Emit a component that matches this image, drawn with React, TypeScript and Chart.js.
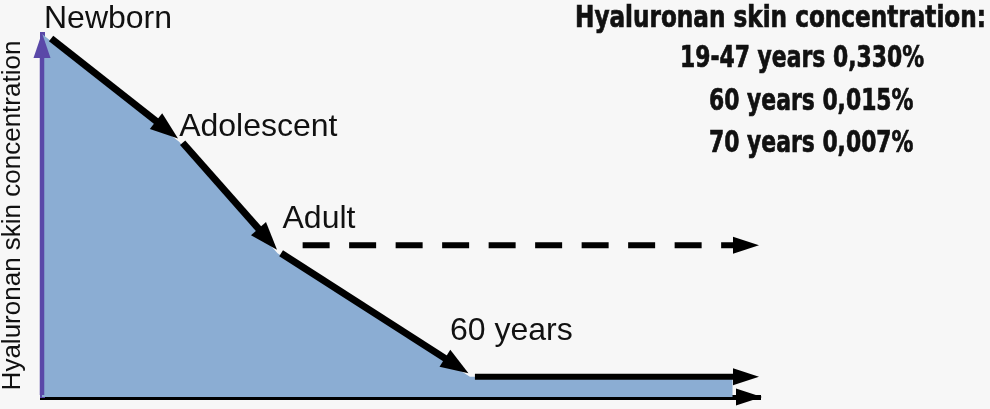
import React, { useEffect, useRef } from "react";
import { Chart, registerables } from "chart.js";

Chart.register(...registerables);

// ---- data ----
const stages = ["Newborn", "Adolescent", "Adult", "60 years"];
const stageAge = [0, 19.1, 32.8, 59.6];
const stageLevel = [100, 70.3, 39.6, 5.6];
const plateauEnd = 96.2;
const arrowEnd = 100;
const adultDashStart = 36.3;
const adultDashLevel = 41.8;
const yAxisTitle = "Hyaluronan skin concentration";
const infoTitle = "Hyaluronan skin concentration:";
const infoLines = ["19-47 years 0,330%", "60 years 0,015%", "70 years 0,007%"];

// ---- style ----
const BG = "#f7f7f7";
const BLUE = "#8badd3";
const PURPLE = "#5a48a8";
const INK = "#111111";
const SANS = "'Liberation Sans', Arial, Helvetica, sans-serif";
const NARROW = "'DejaVu Sans Condensed', 'Liberation Sans Narrow', 'Liberation Sans', Arial, sans-serif";

function drawArrow(
  ctx: CanvasRenderingContext2D,
  x1: number, y1: number, x2: number, y2: number,
  width: number, headLen: number, headHalf: number, color: string,
  dash?: number[]
) {
  const ang = Math.atan2(y2 - y1, x2 - x1);
  const c = Math.cos(ang), s = Math.sin(ang);
  const bx = x2 - c * headLen, by = y2 - s * headLen;
  ctx.save();
  ctx.strokeStyle = color;
  ctx.fillStyle = color;
  ctx.lineWidth = width;
  ctx.lineCap = "butt";
  if (dash) ctx.setLineDash(dash);
  ctx.beginPath();
  ctx.moveTo(x1, y1);
  ctx.lineTo(bx + c * 2, by + s * 2);
  ctx.stroke();
  ctx.setLineDash([]);
  ctx.beginPath();
  ctx.moveTo(x2, y2);
  ctx.lineTo(bx - s * headHalf, by + c * headHalf);
  ctx.lineTo(bx + s * headHalf, by - c * headHalf);
  ctx.closePath();
  ctx.fill();
  ctx.restore();
}

const labelOffsets: [number, number][] = [[2, -6], [0, -6], [5, -25], [-20, -37]];

const annotPlugin = {
  id: "annot",
  afterDraw(chart: any) {
    const ctx: CanvasRenderingContext2D = chart.ctx;
    const xs = chart.scales.x, ys = chart.scales.y;
    const area = chart.chartArea;
    const px = (v: number) => xs.getPixelForValue(v);
    const py = (v: number) => ys.getPixelForValue(v);

    // stage arrows along the curve
    for (let i = 0; i < stages.length - 1; i++) {
      const ax = px(stageAge[i]), ay = py(stageLevel[i]);
      const bx = px(stageAge[i + 1]), by = py(stageLevel[i + 1]);
      const len = Math.hypot(bx - ax, by - ay);
      const ux = (bx - ax) / len, uy = (by - ay) / len;
      const nx = uy, ny = -ux; // upper-right normal
      const off = 2;
      const t0 = i === 0 ? 10 : 3;
      const t1 = 3;
      drawArrow(
        ctx,
        ax + ux * t0 + nx * off, ay + uy * t0 + ny * off,
        bx - ux * t1 + nx * off, by - uy * t1 + ny * off,
        7, 28, 10, "#000"
      );
    }

    // plateau arrow (60 years onward)
    const last = stages.length - 1;
    drawArrow(ctx, px(stageAge[last]) + 5, py(stageLevel[last]), px(arrowEnd) - 1, py(stageLevel[last]), 6, 26, 8.5, "#000");

    // dashed adult arrow
    drawArrow(ctx, px(adultDashStart), py(adultDashLevel), px(arrowEnd) - 1, py(adultDashLevel), 6, 26, 8.5, "#000", [27, 19.5]);

    // x axis arrowhead
    const yb = area.bottom;
    ctx.save();
    ctx.fillStyle = "#000";
    ctx.beginPath();
    ctx.moveTo(area.right + 2, yb);
    ctx.lineTo(area.right - 24, yb - 8.5);
    ctx.lineTo(area.right - 24, yb + 8.5);
    ctx.closePath();
    ctx.fill();
    // y axis line + arrowhead
    const xl = area.left;
    ctx.strokeStyle = PURPLE;
    ctx.lineWidth = 4.5;
    ctx.beginPath();
    ctx.moveTo(xl, yb - 2);
    ctx.lineTo(xl, area.top + 20);
    ctx.stroke();
    ctx.fillStyle = PURPLE;
    ctx.beginPath();
    ctx.moveTo(xl, area.top - 1);
    ctx.lineTo(xl - 8.5, area.top + 24);
    ctx.lineTo(xl + 8.5, area.top + 24);
    ctx.closePath();
    ctx.fill();
    ctx.restore();

    // stage labels
    ctx.save();
    ctx.fillStyle = INK;
    ctx.font = `32px ${SANS}`;
    ctx.textAlign = "left";
    ctx.textBaseline = "alphabetic";
    stages.forEach((s, i) => {
      ctx.fillText(s, px(stageAge[i]) + labelOffsets[i][0], py(stageLevel[i]) + labelOffsets[i][1]);
    });
    ctx.restore();

    // info block
    ctx.save();
    ctx.fillStyle = INK;
    ctx.strokeStyle = INK;
    ctx.lineWidth = 0.7;
    ctx.font = `bold 31px ${NARROW}`;
    ctx.textBaseline = "alphabetic";
    const tw = ctx.measureText(infoTitle).width;
    const sx = 411 / tw;
    ctx.save();
    ctx.translate(986, 27);
    ctx.scale(sx, 1);
    ctx.textAlign = "right";
    ctx.fillText(infoTitle, 0, 0);
    ctx.strokeText(infoTitle, 0, 0);
    ctx.restore();
    const lx = [680, 709, 709];
    const lb = [67, 110, 152];
    infoLines.forEach((t, i) => {
      ctx.save();
      ctx.translate(lx[i], lb[i]);
      ctx.scale(sx * 0.945, 1);
      ctx.textAlign = "left";
      ctx.fillText(t, 0, 0);
      ctx.strokeText(t, 0, 0);
      ctx.restore();
    });
    ctx.restore();
  },
};

export default function App() {
  const ref = useRef<HTMLCanvasElement | null>(null);
  useEffect(() => {
    if (!ref.current) return;
    const areaData = stageAge.map((a, i) => ({ x: a, y: stageLevel[i] }));
    areaData.push({ x: plateauEnd, y: stageLevel[stageLevel.length - 1] });
    const chart = new Chart(ref.current, {
      type: "line",
      data: {
        datasets: [
          {
            label: "Hyaluronan",
            data: areaData,
            fill: "origin",
            backgroundColor: BLUE,
            borderWidth: 0,
            borderColor: BLUE,
            pointRadius: 0,
            tension: 0,
          },
        ],
      },
      options: {
        animation: false,
        responsive: false,
        devicePixelRatio: 1,
        layout: { padding: { top: 34, right: 230, bottom: 12, left: 0 } },
        plugins: {
          legend: { display: false },
          tooltip: { enabled: false },
          title: { display: false },
        },
        scales: {
          x: {
            type: "linear",
            min: 0,
            max: 100,
            z: 1,
            grid: { display: false, drawTicks: false },
            ticks: { display: false },
            border: { display: true, color: "#000", width: 5 },
          },
          y: {
            type: "linear",
            min: 0,
            max: 100,
            z: 1,
            grid: { display: false, drawTicks: false },
            ticks: { display: false },
            border: { display: true, color: PURPLE, width: 5 },
            title: {
              display: true,
              text: yAxisTitle,
              color: INK,
              font: { family: SANS, size: 26, lineHeight: 1 },
              padding: { top: 0, bottom: 16 },
            },
          },
        },
      },
      plugins: [annotPlugin],
    } as any);
    return () => chart.destroy();
  }, []);
  return (
    <div style={{ position: "fixed", left: 0, top: 0, width: 990, height: 409, background: BG }}>
      <canvas ref={ref} width={990} height={409} style={{ display: "block" }} />
    </div>
  );
}
